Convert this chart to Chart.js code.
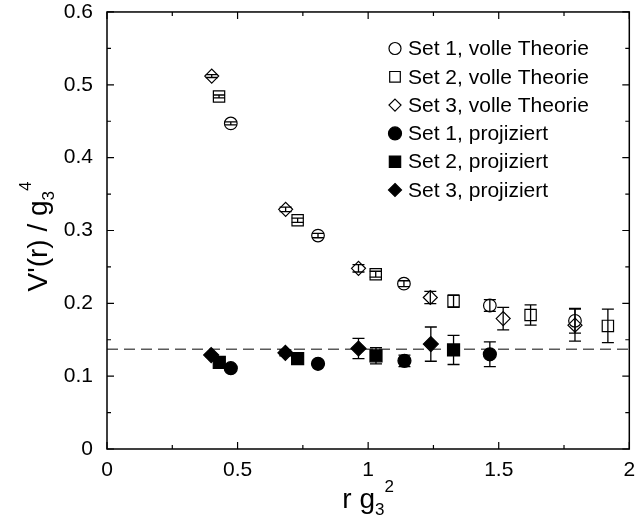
<!DOCTYPE html>
<html>
<head>
<meta charset="utf-8">
<script src="https://cdn.jsdelivr.net/npm/chart.js@4.4.0/dist/chart.umd.min.js"></script>
<style>
html, body { margin: 0; padding: 0; background: #fff; }
</style>
</head>
<body>
<canvas id="grafica" width="639" height="519"></canvas>
<script>
// axis ticks
const xTicks = [0, 0.5, 1, 1.5, 2];
const yTicks = [0, 0.1, 0.2, 0.3, 0.4, 0.5, 0.6];
const xMinor = [0.25, 0.75, 1.25, 1.75];
const yMinor = [0.05, 0.15, 0.25, 0.35, 0.45, 0.55];
const plateau = 0.137;

// volle Theorie
const set1FullX = [0.474, 0.808, 1.137, 1.466, 1.792];
const set1FullY = [0.447, 0.293, 0.227, 0.197, 0.176];
const set1FullErr = [0.002, 0.003, 0.004, 0.008, 0.017];

const set2FullX = [0.429, 0.730, 1.029, 1.327, 1.622, 1.918];
const set2FullY = [0.484, 0.314, 0.240, 0.203, 0.184, 0.169];
const set2FullErr = [0.002, 0.003, 0.004, 0.0085, 0.014, 0.023];

const set3FullX = [0.401, 0.684, 0.963, 1.238, 1.517, 1.792];
const set3FullY = [0.512, 0.329, 0.248, 0.208, 0.179, 0.170];
const set3FullErr = [0.002, 0.003, 0.005, 0.0085, 0.0155, 0.022];

// projiziert
const set1ProjX = [0.474, 0.808, 1.139, 1.466];
const set1ProjY = [0.111, 0.117, 0.121, 0.130];
const set1ProjErr = [0.002, 0.003, 0.008, 0.017];

const set2ProjX = [0.430, 0.730, 1.030, 1.327];
const set2ProjY = [0.119, 0.124, 0.128, 0.136];
const set2ProjErr = [0.002, 0.003, 0.011, 0.020];

const set3ProjX = [0.399, 0.683, 0.963, 1.240];
const set3ProjY = [0.129, 0.132, 0.138, 0.144];
const set3ProjErr = [0.002, 0.004, 0.014, 0.0235];

const legendLabels = [
    "Set 1, volle Theorie",
    "Set 2, volle Theorie",
    "Set 3, volle Theorie",
    "Set 1, projiziert",
    "Set 2, projiziert",
    "Set 3, projiziert"
];

const FONT = '"Liberation Sans", Arial, Helvetica, sans-serif';

function points(xs, ys) {
    return xs.map((x, i) => ({x: x, y: ys[i]}));
}

function serie(label, xs, ys, errs, style, filled, radius) {
    return {
        label: label,
        data: points(xs, ys),
        errors: errs,
        showLine: false,
        pointStyle: style,
        pointRadius: radius,
        pointHoverRadius: radius,
        pointBorderWidth: 1.2,
        borderColor: '#000',
        backgroundColor: filled ? '#000' : 'rgba(0,0,0,0)',
        legendStyle: style,
        legendFilled: filled,
        order: 1
    };
}

const data = {
    datasets: [
        {
            label: 'plateau',
            type: 'line',
            data: [{x: 0, y: plateau}, {x: 2, y: plateau}],
            borderColor: '#5a5a5a',
            borderWidth: 1.5,
            borderDash: [11, 6],
            pointRadius: 0,
            order: 10
        },
        serie(legendLabels[0], set1FullX, set1FullY, set1FullErr, 'circle', false, 6.3),
        serie(legendLabels[1], set2FullX, set2FullY, set2FullErr, 'rect', false, 8),
        serie(legendLabels[2], set3FullX, set3FullY, set3FullErr, 'rectRot', false, 7),
        serie(legendLabels[3], set1ProjX, set1ProjY, set1ProjErr, 'circle', true, 6.5),
        serie(legendLabels[4], set2ProjX, set2ProjY, set2ProjErr, 'rect', true, 8.5),
        serie(legendLabels[5], set3ProjX, set3ProjY, set3ProjErr, 'rectRot', true, 7.5)
    ]
};

function marker(ctx, style, filled, x, y, r) {
    ctx.beginPath();
    if (style === 'circle') {
        ctx.arc(x, y, r, 0, Math.PI * 2);
    } else if (style === 'rect') {
        const s = r * Math.SQRT1_2;
        ctx.rect(x - s, y - s, 2 * s, 2 * s);
    } else {
        ctx.moveTo(x, y - r);
        ctx.lineTo(x + r, y);
        ctx.lineTo(x, y + r);
        ctx.lineTo(x - r, y);
        ctx.closePath();
    }
    if (filled) {
        ctx.fillStyle = '#000';
        ctx.fill();
    }
    ctx.strokeStyle = '#000';
    ctx.lineWidth = 1.2;
    ctx.stroke();
}

const errorBars = {
    id: 'errorBars',
    afterDatasetsDraw(chart) {
        const ctx = chart.ctx;
        const xs = chart.scales.x, ys = chart.scales.y;
        ctx.save();
        ctx.strokeStyle = '#000';
        ctx.lineWidth = 1.3;
        chart.data.datasets.forEach(ds => {
            if (!ds.errors) return;
            ds.data.forEach((p, i) => {
                const e = ds.errors[i];
                const px = xs.getPixelForValue(p.x);
                const top = ys.getPixelForValue(p.y + e);
                const bot = ys.getPixelForValue(p.y - e);
                ctx.beginPath();
                ctx.moveTo(px, top); ctx.lineTo(px, bot);
                ctx.moveTo(px - 6, top); ctx.lineTo(px + 6, top);
                ctx.moveTo(px - 6, bot); ctx.lineTo(px + 6, bot);
                ctx.stroke();
            });
        });
        ctx.restore();
    }
};

const frame = {
    id: 'frame',
    afterDraw(chart) {
        const ctx = chart.ctx;
        const a = chart.chartArea;
        const xs = chart.scales.x, ys = chart.scales.y;
        ctx.save();
        ctx.strokeStyle = '#000';
        ctx.lineWidth = 1.5;
        ctx.strokeRect(a.left, a.top, a.right - a.left, a.bottom - a.top);
        ctx.lineWidth = 1.2;
        ctx.beginPath();
        const tx = (v, len) => {
            const px = xs.getPixelForValue(v);
            ctx.moveTo(px, a.bottom); ctx.lineTo(px, a.bottom - len);
            ctx.moveTo(px, a.top); ctx.lineTo(px, a.top + len);
        };
        const ty = (v, len) => {
            const py = ys.getPixelForValue(v);
            ctx.moveTo(a.left, py); ctx.lineTo(a.left + len, py);
            ctx.moveTo(a.right, py); ctx.lineTo(a.right - len, py);
        };
        xTicks.forEach(v => tx(v, 7));
        xMinor.forEach(v => tx(v, 4));
        yTicks.forEach(v => ty(v, 7));
        yMinor.forEach(v => ty(v, 4));
        ctx.stroke();

        // axis titles
        ctx.fillStyle = '#000';
        ctx.textBaseline = 'alphabetic';
        ctx.textAlign = 'left';
        const big = 28, small = 17;
        // x title: r g_3^2
        ctx.font = big + 'px ' + FONT;
        const w1 = ctx.measureText('r g').width;
        ctx.font = small + 'px ' + FONT;
        const w2 = ctx.measureText('3').width;
        const w3 = ctx.measureText('2').width;
        let x0 = (a.left + a.right) / 2 - (w1 + w2 + w3) / 2;
        const yb = 508;
        ctx.font = big + 'px ' + FONT;
        ctx.fillText('r g', x0, yb);
        ctx.font = small + 'px ' + FONT;
        ctx.fillText('3', x0 + w1, yb + 7);
        ctx.fillText('2', x0 + w1 + w2, yb - 16);

        // y title: V'(r) / g_3^4
        ctx.translate(47, (a.top + a.bottom) / 2 + 6);
        ctx.rotate(-Math.PI / 2);
        ctx.font = big + 'px ' + FONT;
        const v1 = ctx.measureText("V'(r) / g").width;
        ctx.font = small + 'px ' + FONT;
        const v2 = ctx.measureText('3').width;
        const v3 = ctx.measureText('4').width;
        x0 = -(v1 + v2 + v3) / 2;
        ctx.font = big + 'px ' + FONT;
        ctx.fillText("V'(r) / g", x0, 0);
        ctx.font = small + 'px ' + FONT;
        ctx.fillText('3', x0 + v1, 7);
        ctx.fillText('4', x0 + v1 + v2, -16);
        ctx.restore();

        // legend
        ctx.save();
        ctx.font = '21px ' + FONT;
        ctx.textBaseline = 'middle';
        ctx.fillStyle = '#000';
        const sets = chart.data.datasets.filter(d => d.errors);
        sets.forEach((ds, i) => {
            const y = 48.5 + i * 28.3;
            const r = ds.legendFilled ? (ds.legendStyle === 'rect' ? 8 : 6.5) : (ds.legendStyle === 'rect' ? 7.5 : 6);
            marker(ctx, ds.legendStyle, ds.legendFilled, 395, y, r);
            ctx.fillText(ds.label, 408, y + 1);
        });
        ctx.restore();
    }
};

const config = {
    type: 'scatter',
    data: data,
    options: {
        responsive: false,
        animation: false,
        layout: {padding: 0},
        plugins: {
            legend: {display: false},
            tooltip: {enabled: false}
        },
        scales: {
            x: {
                type: 'linear',
                min: 0, max: 2,
                afterBuildTicks: s => { s.ticks = xTicks.map(v => ({value: v})); },
                afterFit: s => { s.height = 70; },
                grid: {display: false, drawTicks: true, tickLength: 9},
                border: {display: false},
                ticks: {
                    padding: 0,
                    color: '#000',
                    maxRotation: 0,
                    font: {family: FONT, size: 21},
                    callback: v => String(v)
                }
            },
            y: {
                type: 'linear',
                min: 0, max: 0.6,
                afterBuildTicks: s => { s.ticks = yTicks.map(v => ({value: v})); },
                afterFit: s => { s.width = 107; },
                grid: {display: false, drawTicks: true, tickLength: 14},
                border: {display: false},
                ticks: {
                    padding: 0,
                    color: '#000',
                    font: {family: FONT, size: 21, lineHeight: 1.14},
                    callback: v => String(v)
                }
            }
        }
    },
    plugins: [errorBars, frame]
};

const ctx = document.getElementById('grafica').getContext('2d');
const graficaPotencial = new Chart(ctx, config);
</script>
</body>
</html>
